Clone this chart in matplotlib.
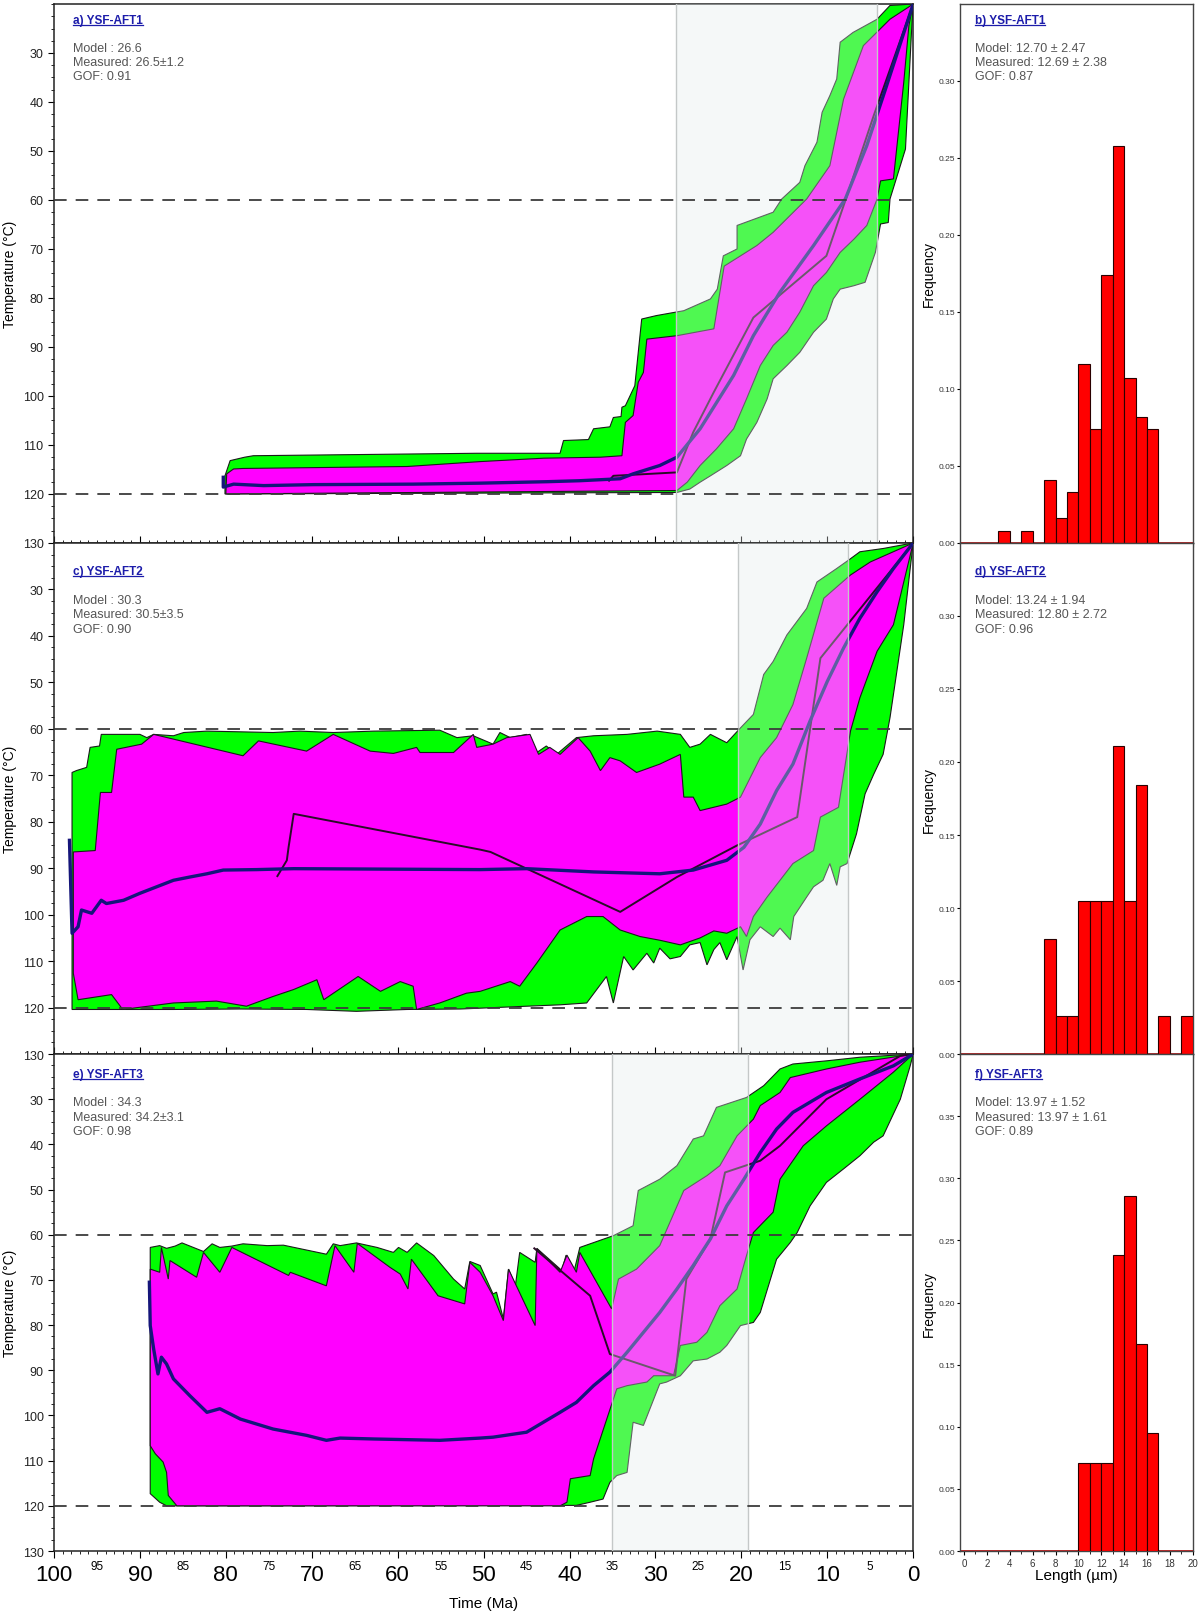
import matplotlib
matplotlib.use("Agg")
import matplotlib.pyplot as plt
from matplotlib.ticker import MultipleLocator, FuncFormatter
from matplotlib.lines import Line2D

plt.rcParams['font.family'] = ['Liberation Sans', 'DejaVu Sans']
NARROW = ['Liberation Sans Narrow', 'Liberation Sans', 'DejaVu Sans']

# ---------------- a) YSF-AFT1 : (time Ma, temperature C) ----------------
a_green_top = [(80.1, 120.0), (80.1, 116.3), (79.5, 113.2), (77.8, 112.5), (76.8, 112.2), (66.5, 112.0),
               (50.8, 111.7), (41.1, 111.7), (40.7, 109.1), (37.8, 108.9), (37.2, 106.7), (35.3, 106.3),
               (34.9, 104.4), (34.0, 104.2), (33.9, 102.3), (33.5, 102.0), (32.4, 97.9), (31.6, 84.3),
               (29.9, 83.6), (26.7, 82.6), (23.6, 80.2), (22.8, 78.2), (22.1, 71.4), (20.5, 70.0),
               (20.5, 65.2), (16.3, 62.5), (15.3, 59.8), (13.2, 56.4), (12.6, 53.0), (11.2, 48.2),
               (10.6, 42.1), (9.7, 38.7), (8.9, 35.3), (8.5, 27.8), (7.0, 25.8), (4.2, 23.1), (2.7, 20.3),
               (0.0, 20.0)]
a_green_bot = [(0.0, 20.0), (0.2, 25.8), (0.6, 39.4), (0.9, 49.6), (2.7, 59.8), (2.9, 64.6), (3.8, 64.9),
               (4.4, 70.7), (5.6, 76.8), (6.9, 77.5), (8.5, 78.2), (9.3, 80.2), (10.1, 84.3), (11.6, 87.0),
               (13.2, 91.1), (14.7, 93.8), (16.3, 96.5), (17.0, 100.6), (18.2, 105.4), (19.4, 108.8),
               (20.1, 112.2), (21.7, 114.2), (23.6, 116.3), (24.8, 117.6), (26.0, 119.0), (27.5, 119.7),
               (80.1, 120.0)]
a_mag_top = [(80.0, 120.0), (79.9, 115.9), (79.1, 114.9), (78.0, 114.8), (58.9, 114.4), (50.4, 113.4),
             (43.0, 112.7), (36.4, 112.5), (33.9, 112.2), (33.5, 105.4), (32.6, 104.0), (32.0, 97.2),
             (31.4, 95.2), (31.0, 88.4), (27.5, 87.7), (23.2, 86.3), (22.0, 73.5), (18.2, 69.3),
             (16.3, 66.6), (12.4, 59.8), (9.7, 53.0), (8.1, 39.4), (5.8, 28.5), (2.7, 23.1), (0.0, 20.0)]
a_mag_bot = [(0.0, 20.0), (0.5, 24.4), (1.1, 36.0), (2.3, 55.7), (3.8, 56.1), (4.2, 59.8), (5.4, 65.2),
             (6.9, 68.0), (8.5, 70.7), (10.1, 74.8), (11.6, 77.5), (13.2, 82.9), (14.7, 87.0), (16.3, 89.7),
             (17.8, 93.8), (19.4, 100.6), (20.9, 106.7), (22.9, 110.8), (24.8, 114.2), (26.3, 117.6),
             (27.5, 119.3), (80.0, 120.0)]
a_mean = [(80.3, 116.6), (80.3, 118.6), (79.1, 118.0), (75.6, 118.3), (69.8, 118.1), (58.2, 118.0),
          (50.4, 117.8), (42.6, 117.5), (38.8, 117.3), (34.1, 116.9), (32.6, 115.9), (29.5, 114.2),
          (27.5, 112.5), (24.8, 106.7), (20.9, 95.8), (18.6, 87.7), (15.5, 78.8), (11.6, 69.3),
          (7.9, 59.8), (5.4, 48.9), (3.1, 36.7), (0.0, 20.0)]
a_best = [(35.4, 117.3), (34.9, 116.3), (27.5, 115.6), (25.6, 107.4), (23.2, 99.2), (18.6, 84.0),
          (14.7, 78.2), (10.1, 71.4), (7.7, 59.1), (4.6, 42.8), (0.0, 20.0)]
a_band = (27.6, 4.2)

# ---------------- c) YSF-AFT2 ----------------
c_green_top = [(97.9, 120.4), (97.9, 69.4), (97.4, 69.0), (96.2, 68.3), (95.8, 64.0), (94.7, 63.7),
               (94.5, 61.2), (90.0, 61.2), (89.2, 61.9), (88.4, 61.2), (86.1, 61.5), (84.9, 60.8),
               (82.2, 60.5), (74.5, 60.8), (71.4, 60.5), (67.5, 60.8), (62.8, 60.5), (55.1, 60.3),
               (53.1, 61.9), (51.2, 61.5), (48.9, 63.3), (48.1, 60.8), (46.9, 61.9), (45.0, 61.2),
               (43.8, 65.1), (42.7, 63.7), (41.5, 65.5), (39.2, 61.9), (37.2, 61.5), (33.3, 61.2),
               (29.8, 60.5), (27.1, 61.2), (26.0, 64.0), (24.8, 63.3), (23.6, 61.2), (21.7, 63.0),
               (20.1, 59.8), (18.6, 56.9), (17.4, 48.3), (16.3, 45.5), (14.7, 39.8), (12.4, 34.1),
               (11.2, 28.4), (8.9, 25.5), (7.3, 23.4), (6.2, 21.9), (3.5, 21.2), (0.0, 20.0)]
c_green_bot = [(0.0, 20.0), (0.35, 25.5), (1.1, 37.6), (2.7, 57.6), (3.5, 65.5), (4.6, 69.8), (5.6, 74.0),
               (6.6, 82.6), (7.7, 89.0), (8.5, 89.7), (8.9, 93.7), (9.7, 89.0), (10.5, 92.6), (11.6, 94.0),
               (12.4, 96.2), (13.9, 100.4), (14.3, 105.4), (15.5, 102.9), (16.3, 104.7), (17.8, 102.6),
               (19.0, 105.4), (19.8, 111.9), (20.5, 104.7), (21.7, 109.7), (22.5, 106.0), (23.2, 107.5),
               (24.0, 110.8), (24.8, 106.0), (26.0, 106.5), (27.1, 109.0), (28.3, 109.5), (29.5, 107.2),
               (30.2, 110.4), (31.0, 108.3), (32.6, 111.9), (33.7, 109.0), (34.9, 119.0), (35.7, 113.3),
               (38.0, 119.0), (41.1, 119.4), (45.0, 119.7), (52.7, 120.3), (58.9, 120.4), (64.8, 120.8),
               (70.6, 120.4), (78.3, 120.3), (86.1, 120.4), (93.9, 120.4)]
c_mag_top = [(97.75, 112.6), (97.75, 86.5), (95.2, 86.2), (94.6, 73.7), (93.3, 73.7), (92.7, 64.4),
             (89.8, 63.3), (88.4, 61.2), (78.0, 65.8), (76.2, 62.6), (70.6, 64.8), (67.5, 61.2),
             (63.2, 64.8), (60.5, 65.3), (57.8, 64.0), (57.4, 65.1), (53.5, 65.1), (51.2, 61.2),
             (50.8, 64.0), (48.9, 63.3), (47.3, 61.9), (44.6, 61.2), (43.6, 65.5), (42.3, 64.0),
             (41.1, 65.5), (39.0, 61.9), (37.6, 64.8), (36.4, 69.0), (35.3, 66.2), (34.1, 66.9),
             (32.2, 69.4), (29.5, 67.6), (27.1, 65.5), (26.7, 74.7), (25.6, 74.7), (24.8, 77.6),
             (21.7, 76.2), (20.1, 74.7), (17.8, 66.2), (15.9, 61.9), (14.0, 54.8), (12.4, 44.8),
             (10.4, 31.9), (7.3, 26.9), (5.0, 24.1), (0.0, 20.0)]
c_mag_bot = [(0.0, 20.0), (2.3, 37.6), (4.2, 43.3), (6.2, 53.3), (7.3, 60.5), (8.7, 76.9), (10.8, 79.0),
             (11.6, 86.2), (14.0, 89.0), (15.5, 92.6), (17.0, 96.2), (18.6, 100.4), (19.4, 104.7),
             (20.1, 102.6), (21.7, 104.0), (23.2, 103.5), (24.8, 105.0), (27.1, 106.5), (29.5, 105.5),
             (31.8, 104.7), (34.1, 103.3), (36.1, 100.4), (38.0, 100.4), (41.1, 103.3), (43.8, 110.4),
             (45.8, 115.4), (46.9, 114.4), (50.4, 116.5), (52.0, 116.9), (55.1, 119.0), (57.8, 120.4),
             (58.2, 115.4), (59.7, 114.4), (62.0, 116.5), (64.6, 113.3), (68.6, 118.3), (69.4, 114.0),
             (72.1, 116.1), (74.5, 117.6), (77.6, 119.7), (81.1, 118.6), (86.1, 119.0), (92.0, 120.4),
             (93.3, 117.2), (97.2, 118.3)]
c_mean = [(98.2, 84.0), (97.9, 104.0), (97.2, 102.6), (96.8, 99.0), (95.6, 99.7), (94.5, 96.9),
          (93.9, 97.6), (91.9, 96.9), (90.0, 95.4), (86.1, 92.6), (84.2, 91.9), (82.2, 91.2), (80.3, 90.4),
          (76.4, 90.3), (72.1, 90.1), (50.4, 90.3), (45.0, 90.1), (37.2, 90.8), (29.5, 91.2), (25.6, 90.4),
          (21.7, 88.3), (19.7, 85.5), (17.8, 80.5), (15.9, 73.3), (14.0, 67.6), (12.0, 58.3), (10.0, 49.8),
          (8.1, 42.6), (6.2, 36.2), (4.2, 30.5), (2.3, 25.5), (0.0, 20.0)]
c_best = [(74.0, 91.7), (72.9, 88.3), (72.7, 85.5), (72.1, 78.3), (50.4, 86.0), (49.2, 86.5),
          (34.1, 99.4), (27.5, 91.9), (20.5, 85.1), (13.5, 79.0), (10.8, 44.8), (0.0, 20.0)]
c_band = (20.4, 7.6)

# ---------------- e) YSF-AFT3 ----------------
e_green_top = [(88.8, 117.3), (88.8, 62.8), (87.7, 62.4), (86.9, 63.0), (85.9, 62.5), (85.1, 61.8),
               (82.6, 63.7), (81.6, 62.0), (80.7, 62.8), (79.3, 62.5), (78.0, 62.0), (75.2, 62.4),
               (73.3, 62.3), (68.3, 64.3), (67.5, 62.0), (66.7, 62.4), (64.8, 61.8), (62.4, 62.8),
               (60.5, 63.9), (59.9, 62.8), (58.9, 63.9), (57.8, 61.8), (55.8, 64.6), (53.5, 69.8),
               (52.2, 72.0), (51.6, 65.9), (50.4, 66.8), (48.9, 73.1), (48.5, 72.7), (47.7, 78.6),
               (47.1, 67.6), (46.3, 71.3), (45.8, 63.9), (44.0, 66.1), (43.8, 63.0), (40.9, 67.9),
               (40.4, 64.5), (39.5, 68.3), (38.8, 62.8), (34.9, 60.2), (32.6, 58.0), (32.0, 50.2),
               (29.5, 47.7), (27.5, 44.7), (25.6, 38.8), (24.4, 38.1), (22.9, 31.8), (19.4, 29.6),
               (17.4, 27.0), (15.5, 23.3), (14.0, 22.2), (10.1, 21.5), (6.2, 20.7), (0.0, 20.0)]
e_green_bot = [(0.0, 20.0), (0.35, 22.6), (1.5, 30.0), (3.5, 38.1), (4.6, 39.5), (6.2, 42.5), (8.1, 45.4),
               (10.1, 48.4), (12.0, 53.6), (13.5, 59.5), (14.3, 61.7), (15.9, 65.4), (17.8, 77.2),
               (18.6, 79.4), (20.1, 80.1), (21.7, 84.5), (22.5, 86.0), (24.0, 87.5), (25.6, 87.9),
               (27.1, 91.2), (28.7, 92.6), (29.5, 93.0), (31.4, 102.2), (32.6, 101.5), (33.3, 112.6),
               (34.5, 113.3), (35.3, 114.8), (36.1, 118.5), (37.6, 119.2), (39.2, 119.9), (86.9, 120.0),
               (87.7, 119.2)]
e_mag_top = [(88.8, 106.7), (88.8, 67.6), (87.7, 68.3), (87.5, 62.8), (86.7, 69.8), (86.5, 65.7),
             (83.4, 69.4), (82.6, 63.9), (80.7, 68.3), (79.3, 62.8), (72.7, 69.0), (72.5, 68.3),
             (68.3, 71.3), (67.3, 62.4), (65.1, 68.3), (64.7, 61.9), (60.9, 67.2), (59.7, 68.7),
             (58.8, 72.0), (58.4, 65.4), (55.3, 73.5), (52.2, 75.3), (51.6, 66.1), (50.4, 68.3),
             (48.9, 73.5), (47.7, 79.0), (47.1, 67.6), (44.0, 80.1), (43.8, 63.1), (41.1, 68.3),
             (40.3, 64.5), (39.2, 68.3), (38.8, 63.9), (35.1, 76.4), (34.3, 69.8), (32.2, 67.6),
             (29.5, 62.4), (26.7, 50.2), (24.0, 46.9), (22.5, 44.7), (20.5, 38.1), (18.6, 34.4),
             (17.8, 31.4), (15.5, 28.5), (14.3, 25.2), (10.1, 23.3), (6.2, 21.8), (0.0, 20.0)]
e_mag_bot = [(0.0, 20.0), (2.3, 24.0), (6.2, 30.0), (10.1, 35.9), (12.8, 40.3), (15.5, 47.7), (16.3, 55.0),
             (18.6, 59.5), (19.4, 64.6), (20.5, 72.0), (22.5, 75.7), (24.0, 81.6), (25.2, 83.8),
             (27.1, 84.5), (27.9, 91.2), (30.2, 91.2), (31.0, 92.6), (33.3, 93.4), (34.5, 94.1),
             (37.2, 109.6), (37.6, 113.3), (39.9, 114.0), (40.3, 119.2), (41.1, 120.0), (85.7, 120.0),
             (86.7, 117.7), (86.9, 112.6), (87.3, 110.3), (88.2, 108.5)]
e_mean = [(88.9, 70.5), (88.8, 80.1), (88.4, 85.3), (87.9, 90.8), (87.5, 87.1), (86.9, 88.6), (86.1, 91.9),
          (84.2, 95.6), (82.2, 99.3), (80.7, 98.5), (78.3, 100.8), (74.5, 103.0), (70.6, 104.4),
          (68.3, 105.5), (66.7, 105.0), (62.8, 105.2), (55.1, 105.5), (50.4, 105.0), (48.9, 104.8),
          (45.0, 103.7), (41.1, 99.3), (39.2, 97.1), (37.2, 93.4), (35.3, 90.4), (33.3, 86.0),
          (31.4, 81.6), (29.5, 77.2), (27.5, 72.0), (25.6, 66.8), (23.6, 60.9), (21.7, 53.6),
          (19.7, 47.7), (17.8, 41.8), (15.9, 36.6), (14.0, 32.9), (10.1, 28.5), (6.2, 25.5),
          (2.3, 22.6), (0.0, 20.0)]
e_best = [(44.1, 63.0), (37.6, 73.5), (35.3, 86.4), (27.7, 91.2), (26.4, 69.8), (23.6, 60.9),
          (21.9, 46.2), (17.8, 43.6), (15.5, 40.3), (10.1, 30.0), (1.5, 20.4), (0.0, 20.0)]
e_band = (35.1, 19.2)

# ---------------- track length histograms (1 um bins) ----------------
bin_left = list(range(20))
b_freq = [0, 0, 0, 0.008, 0, 0.008, 0, 0.041, 0.016, 0.033, 0.116, 0.074, 0.174, 0.258, 0.107, 0.082,
          0.074, 0, 0, 0]
d_freq = [0, 0, 0, 0, 0, 0, 0, 0.079, 0.026, 0.026, 0.105, 0.105, 0.105, 0.211, 0.105, 0.184, 0, 0.026,
          0, 0.026]
f_freq = [0, 0, 0, 0, 0, 0, 0, 0, 0, 0, 0.071, 0.071, 0.071, 0.238, 0.286, 0.167, 0.095, 0, 0, 0]

titles_left = ['a) YSF-AFT1', 'c) YSF-AFT2', 'e) YSF-AFT3']
stats_left = ['Model : 26.6\nMeasured: 26.5±1.2\nGOF: 0.91',
              'Model : 30.3\nMeasured: 30.5±3.5\nGOF: 0.90',
              'Model : 34.3\nMeasured: 34.2±3.1\nGOF: 0.98']
titles_right = ['b) YSF-AFT1', 'd) YSF-AFT2', 'f) YSF-AFT3']
stats_right = ['Model: 12.70 ± 2.47\nMeasured: 12.69 ± 2.38\nGOF: 0.87',
               'Model: 13.24 ± 1.94\nMeasured: 12.80 ± 2.72\nGOF: 0.96',
               'Model: 13.97 ± 1.52\nMeasured: 13.97 ± 1.61\nGOF: 0.89']

TITLE_C = '#1c1caa'
TEXT_C = '#555555'

fig = plt.figure(figsize=(12, 16.15), dpi=100)
rows = [(0.6632, 0.9969), (0.3467, 0.6632), (0.0390, 0.3467)]
title_y = [0.970, 0.945, 0.960]
stats_y = [0.930, 0.900, 0.915]

paths = [(a_green_top, a_green_bot, a_mag_top, a_mag_bot, a_mean, a_best, a_band),
         (c_green_top, c_green_bot, c_mag_top, c_mag_bot, c_mean, c_best, c_band),
         (e_green_top, e_green_bot, e_mag_top, e_mag_bot, e_mean, e_best, e_band)]
hists = [(b_freq, 0.35), (d_freq, 0.35), (f_freq, 0.40)]

title_texts = []


def xy(pairs):
    return [p[0] for p in pairs], [p[1] for p in pairs]


for i, (bot, top) in enumerate(rows):
    h = top - bot
    # ---- time-temperature panel ----
    ax = fig.add_axes([0.045, bot, 0.716, h])
    g_top, g_bot, m_top, m_bot, mean, best, band = paths[i]
    gx, gy = xy(g_top + g_bot)
    ax.fill(gx, gy, facecolor='#00ff00', edgecolor='#1a1a1a', lw=0.8, zorder=2)
    mx, my = xy(m_top + m_bot)
    ax.fill(mx, my, facecolor='#ff00ff', edgecolor='#1a1a1a', lw=0.8, zorder=3)
    bx, by = xy(best)
    ax.plot(bx, by, color='#2a0c28', lw=1.4, zorder=4)
    mnx, mny = xy(mean)
    ax.plot(mnx, mny, color='#15157a', lw=2.4, zorder=5)
    ax.axvspan(band[0], band[1], facecolor='#e3ebeb', alpha=0.35, edgecolor='none', zorder=6)
    for edge in band:
        ax.axvline(edge, color='#c4c8c8', lw=1.0, zorder=6)
    for lvl in (60, 120):
        ax.axhline(lvl, color='#3c3c3c', lw=1.3, dashes=(7, 5), zorder=7)

    ax.set_xlim(100, 0)
    ax.set_ylim(130, 20)
    ax.set_yticks(range(30, 131, 10))
    ax.yaxis.set_minor_locator(MultipleLocator(2.5))
    ax.tick_params(axis='y', which='major', labelsize=9, length=4, labelcolor='#222222')
    ax.tick_params(axis='y', which='minor', length=2)
    ax.xaxis.set_major_locator(MultipleLocator(10))
    ax.xaxis.set_minor_locator(MultipleLocator(1))
    ax.set_ylabel('Temperature (°C)', fontsize=10, labelpad=4)
    for sp in ax.spines.values():
        sp.set_linewidth(1.1)
        sp.set_color('#222222')
    if i < 2:
        ax.tick_params(axis='x', which='both', direction='in', labelbottom=False)
        ax.tick_params(axis='x', which='major', length=5)
        ax.tick_params(axis='x', which='minor', length=2.5)
    else:
        ax.tick_params(axis='x', which='major', length=5, pad=4)
        ax.tick_params(axis='x', which='minor', length=2.5, pad=4)
        ax.xaxis.set_minor_formatter(FuncFormatter(
            lambda v, p: '%d' % round(v) if round(v) % 10 == 5 else ''))
        for lab in ax.get_xticklabels(which='major'):
            lab.set_fontsize(16)
            lab.set_family(NARROW)
        for lab in ax.get_xticklabels(which='minor'):
            lab.set_fontsize(8.5)
            lab.set_family(NARROW)
        ax.set_xlabel('Time (Ma)', fontsize=11, family=NARROW, labelpad=8)
    t = ax.text(0.022, title_y[i], titles_left[i], transform=ax.transAxes, fontsize=8.5,
                fontweight='bold', color=TITLE_C, va='center', zorder=10)
    title_texts.append((t, TITLE_C))
    ax.text(0.022, stats_y[i], stats_left[i], transform=ax.transAxes, fontsize=9, color=TEXT_C,
            va='top', linespacing=1.25, zorder=10)

    # ---- length histogram ----
    hx = fig.add_axes([0.80, bot, 0.194, h])
    freq, ymax = hists[i]
    lefts = [b for b, f in zip(bin_left, freq) if f > 0]
    vals = [f for f in freq if f > 0]
    hx.bar(lefts, vals, width=1.0, align='edge', color='#ff0000', edgecolor='#2a0000', lw=0.8, zorder=3)
    hx.axhline(0, color='#c00000', lw=1.2, zorder=2)
    hx.set_xlim(-0.35, 20.0)
    hx.set_ylim(0, ymax)
    hx.yaxis.set_major_formatter(FuncFormatter(lambda v, p: '%.2f' % v))
    if ymax < 0.38:
        hx.set_yticks([0, 0.05, 0.10, 0.15, 0.20, 0.25, 0.30])
    else:
        hx.set_yticks([0, 0.05, 0.10, 0.15, 0.20, 0.25, 0.30, 0.35])
    hx.tick_params(axis='y', labelsize=6, length=2.5, pad=1, labelcolor='#333333')
    hx.xaxis.set_major_locator(MultipleLocator(2))
    hx.xaxis.set_minor_locator(MultipleLocator(1))
    hx.tick_params(axis='x', which='major', length=3, labelsize=7, pad=2, labelcolor='#333333')
    hx.tick_params(axis='x', which='minor', length=2)
    if i < 2:
        hx.tick_params(axis='x', which='both', labelbottom=False)
    else:
        hx.set_xlabel('Length (µm)', fontsize=11, labelpad=0)
    hx.set_ylabel('Frequency', fontsize=10, labelpad=2)
    for sp in hx.spines.values():
        sp.set_linewidth(1.0)
        sp.set_color('#444444')
    t = hx.text(0.064, title_y[i], titles_right[i], transform=hx.transAxes, fontsize=8.5,
                fontweight='bold', color=TITLE_C, va='center', zorder=10)
    title_texts.append((t, TITLE_C))
    hx.text(0.064, stats_y[i], stats_right[i], transform=hx.transAxes, fontsize=9, color=TEXT_C,
            va='top', linespacing=1.25, zorder=10)

# underline the panel titles
fig.canvas.draw()
renderer = fig.canvas.get_renderer()
inv = fig.transFigure.inverted()
for t, col in title_texts:
    bb = t.get_window_extent(renderer)
    (x0, y0), (x1, _) = inv.transform([(bb.x0, bb.y0 + 1), (bb.x1, bb.y0 + 1)])
    fig.add_artist(Line2D([x0, x1], [y0, y0], color=col, lw=0.9, transform=fig.transFigure))

fig.savefig('out.png', dpi=100)
